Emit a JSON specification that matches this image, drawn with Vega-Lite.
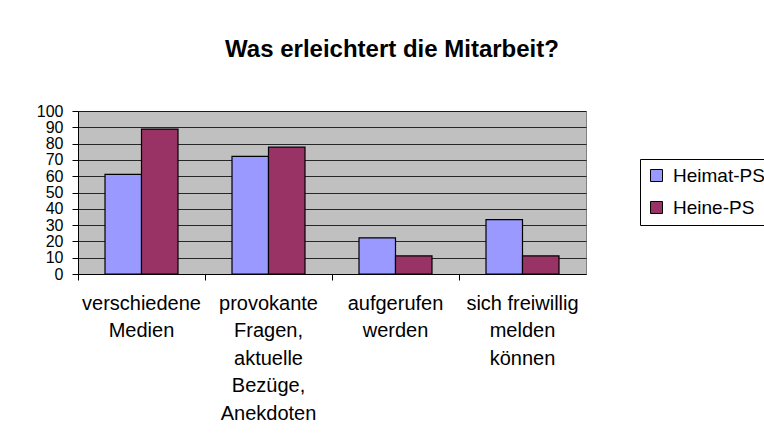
{
  "$schema": "https://vega.github.io/schema/vega-lite/v6.json",
  "autosize": "none",
  "width": 508,
  "height": 163,
  "padding": {"left": 78, "top": 111, "right": 178, "bottom": 167},
  "background": "white",
  "title": {
    "text": "Was erleichtert die Mitarbeit?",
    "font": "Liberation Sans",
    "fontSize": 24,
    "fontWeight": "bold",
    "color": "black",
    "anchor": "middle",
    "dx": 60,
    "offset": 41
  },
  "data": {
    "values": [
      {"kategorie": "verschiedene Medien", "schule": "Heimat-PS", "wert": 61.1},
      {"kategorie": "verschiedene Medien", "schule": "Heine-PS", "wert": 88.9},
      {"kategorie": "provokante Fragen, aktuelle Bezüge, Anekdoten", "schule": "Heimat-PS", "wert": 72.2},
      {"kategorie": "provokante Fragen, aktuelle Bezüge, Anekdoten", "schule": "Heine-PS", "wert": 77.8},
      {"kategorie": "aufgerufen werden", "schule": "Heimat-PS", "wert": 22.2},
      {"kategorie": "aufgerufen werden", "schule": "Heine-PS", "wert": 11.1},
      {"kategorie": "sich freiwillig melden können", "schule": "Heimat-PS", "wert": 33.3},
      {"kategorie": "sich freiwillig melden können", "schule": "Heine-PS", "wert": 11.1}
    ]
  },
  "mark": {"type": "bar", "stroke": "black", "strokeWidth": 1.2},
  "encoding": {
    "x": {
      "field": "kategorie",
      "type": "nominal",
      "sort": null,
      "title": null,
      "scale": {"paddingInner": 0, "paddingOuter": 0},
      "axis": {
        "bandPosition": 0,
        "domainColor": "black",
        "tickColor": "black",
        "tickSize": 6,
        "labelAngle": 0,
        "labelFont": "Liberation Sans",
        "labelFontSize": 20,
        "labelColor": "black",
        "labelLineHeight": 27.5,
        "labelPadding": 13,
        "labelBaseline": "top",
        "labelAlign": "center",
        "labelLimit": 0,
        "labelBound": false,
        "labelOverlap": false,
        "labelExpr": "datum.label == 'sich freiwillig melden können' ? ['sich freiwillig', 'melden', 'können'] : split(datum.label, ' ')"
      }
    },
    "xOffset": {
      "field": "schule",
      "type": "nominal",
      "sort": ["Heimat-PS", "Heine-PS"],
      "scale": {"paddingInner": 0, "paddingOuter": 0.74}
    },
    "y": {
      "field": "wert",
      "type": "quantitative",
      "title": null,
      "scale": {"domain": [0, 100], "nice": false},
      "axis": {
        "values": [0, 10, 20, 30, 40, 50, 60, 70, 80, 90, 100],
        "grid": true,
        "gridColor": "black",
        "gridOpacity": 0.8,
        "domainColor": "black",
        "tickColor": "black",
        "tickSize": 6,
        "labelFont": "Liberation Sans",
        "labelFontSize": 16,
        "labelColor": "black",
        "labelPadding": 9,
        "labelOverlap": false,
        "labelBound": false
      }
    },
    "color": {
      "field": "schule",
      "type": "nominal",
      "sort": ["Heimat-PS", "Heine-PS"],
      "scale": {"domain": ["Heimat-PS", "Heine-PS"], "range": ["#9999FF", "#993366"]},
      "legend": {
        "title": null,
        "orient": "none",
        "legendX": 562,
        "legendY": 48,
        "symbolType": "square",
        "symbolSize": 144,
        "symbolStrokeColor": "black",
        "symbolStrokeWidth": 1,
        "symbolOffset": 0,
        "labelOffset": 7,
        "labelFont": "Liberation Sans",
        "labelFontSize": 19,
        "labelColor": "black",
        "labelLimit": 0,
        "rowPadding": 12,
        "padding": 7,
        "strokeColor": "black",
        "fillColor": "white"
      }
    }
  },
  "config": {
    "view": {"fill": "#C0C0C0", "stroke": "#808080"}
  }
}
